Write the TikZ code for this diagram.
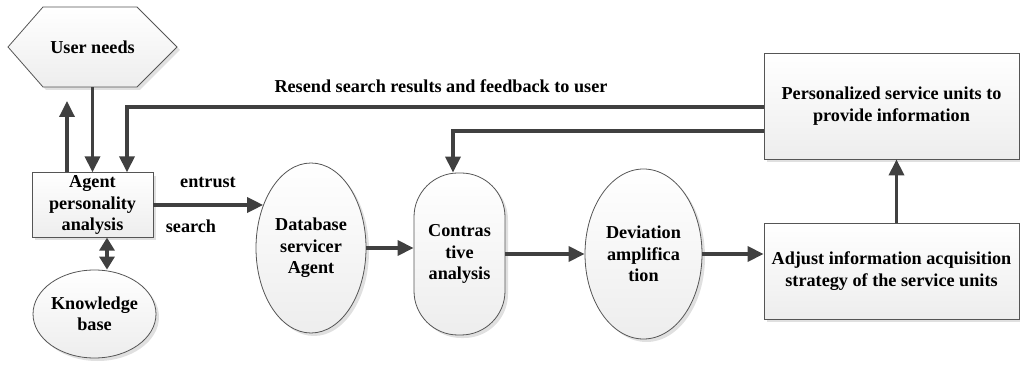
\documentclass[tikz,border=0pt]{standalone}
\usepackage{fontspec}
\setmainfont{Liberation Serif}
\usetikzlibrary{arrows.meta,shapes.geometric,shadows}
\definecolor{arrc}{HTML}{404040}
\definecolor{edgec}{HTML}{555555}
\begin{document}
\begin{tikzpicture}[x=1pt,y=-1pt,
  every node/.style={font=\bfseries\fontsize{18.2}{21.5}\selectfont, align=center, inner sep=0pt},
  shp/.style={draw=edgec, line width=0.8pt, top color=white, bottom color=gray!14,
    drop shadow={shadow xshift=3pt, shadow yshift=-3pt, fill=black!12, opacity=1}},
  rbox/.style={shp, rectangle},
  ell/.style={shp, ellipse},
  arr/.style={draw=arrc, line width=3.4pt, -{Triangle[length=16pt,width=15pt]}},
  darr/.style={draw=arrc, line width=3.4pt, {Triangle[length=13pt,width=15pt]}-{Triangle[length=13pt,width=15pt]}},
  lbl/.style={fill=none}
]
\useasboundingbox (0,0) rectangle (1020,371);

% hexagon
\path[shp] (8,47) -- (43,7) -- (137,7) -- (177,47) -- (137,87) -- (43,87) -- cycle;
\node[minimum width=169pt, minimum height=80pt] (un) at (92.5,47) {User needs};

\node[rbox, minimum width=121pt, minimum height=54pt] (agent) at (92.5,205) {\raisebox{-1pt}{\begin{tabular}{@{}c@{}}Agent\\personality\\analysis\end{tabular}}};
\node[ell, minimum width=115pt, minimum height=88pt] (kb) at (94.5,314) {Knowledge\\base};
\node[ell, minimum width=110pt, minimum height=170pt] (db) at (311,248) {Database\\servicer\\Agent};
\node[shp, rectangle, rounded corners=44pt, minimum width=91pt, minimum height=162pt] (contr) at (459.5,254) {Contras\\tive\\analysis};
\node[ell, minimum width=117pt, minimum height=170pt] (dev) at (643.5,254) {Deviation\\amplifica\\tion};
\node[rbox, minimum width=255pt, minimum height=96pt] (adj) at (891.5,271) {Adjust information acquisition\\strategy of the service units};
\node[rbox, minimum width=255pt, minimum height=106pt] (pers) at (891.5,106) {Personalized service units to\\provide information};

% labels
\node[lbl] (lres) at (441,86) {Resend search results and feedback to user};
\node[lbl] (lent) at (208,182) {entrust};
\node[lbl] (lsea) at (191,226) {search};

\coordinate (upend) at (67,101);

% connectors
\draw[arr] (un.south) -- (un.south |- agent.north);
\draw[arr] (upend |- agent.north) -- (upend);
\draw[arr] (pers.west |- 0,107) -| ([xshift=34.5pt]agent.north);
\draw[arr] (pers.west |- 0,131) -| ([xshift=-6.5pt]contr.north);
\draw[darr] ([xshift=14.5pt]agent.south) -- ([xshift=14.5pt]agent.south |- kb.north);
\draw[arr] (agent.east) -- (agent.east -| db.138);
\draw[arr] (db.east) -- (db.east -| contr.west);
\draw[arr] (contr.east) -- (dev.west);
\draw[arr] (dev.east) -- (dev.east -| adj.west);
\draw[arr] ([xshift=5pt]adj.north) -- ([xshift=5pt]pers.south);
\end{tikzpicture}
\end{document}
